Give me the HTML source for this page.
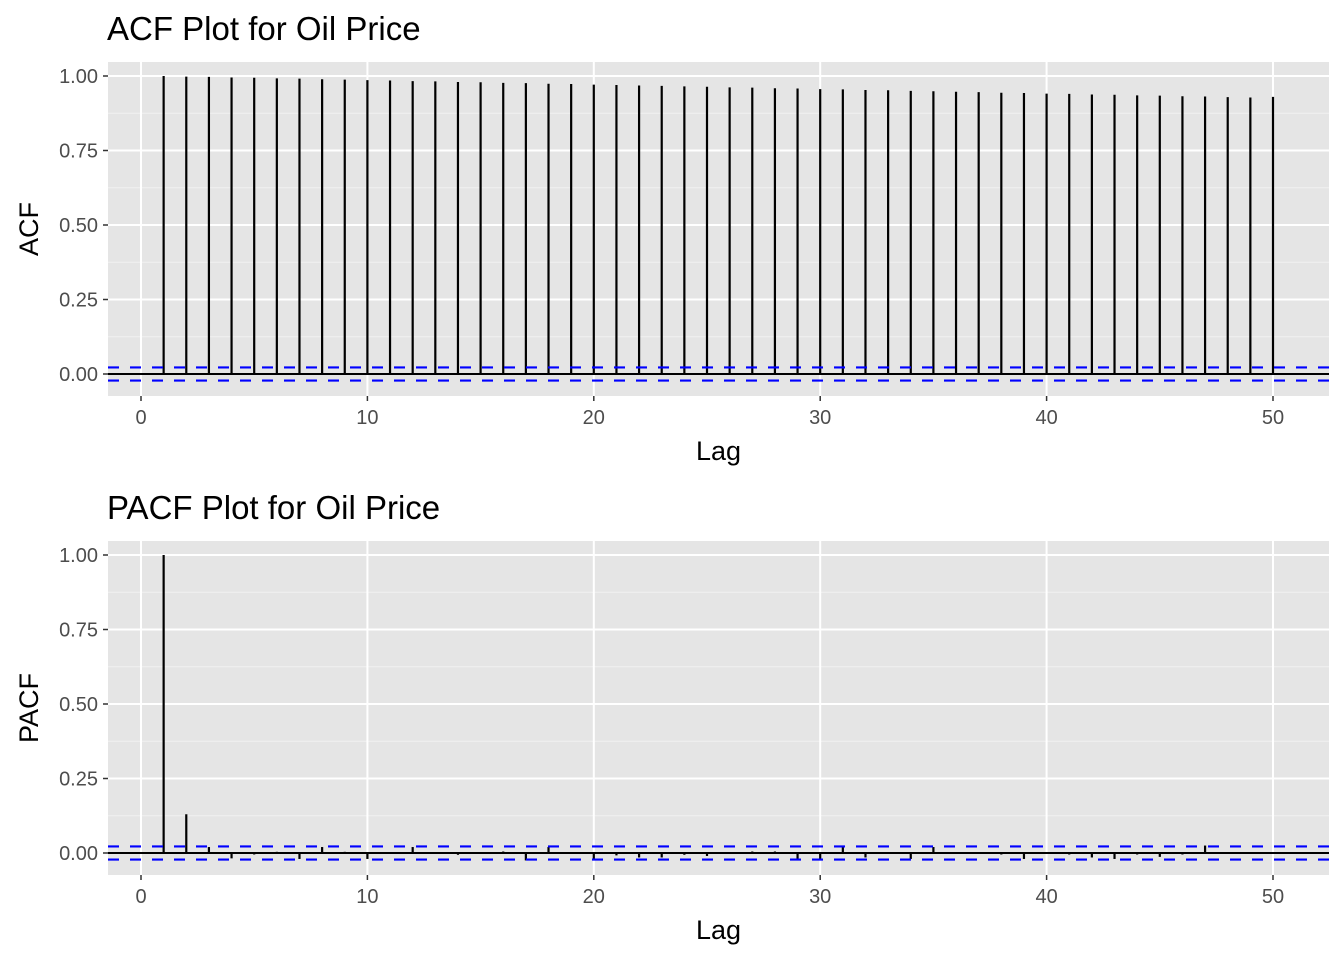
<!DOCTYPE html>
<html><head><meta charset="utf-8"><style>
body{margin:0;background:#fff;}
svg text{font-family:"Liberation Sans",Arial,sans-serif;}
</style></head><body>
<svg id="chart" width="1344" height="960" xmlns="http://www.w3.org/2000/svg"></svg>
<script>
const lags = Array.from({length:50},(_,i)=>i+1);
const acfValues = [1.00,0.998,0.997,0.995,0.994,0.992,0.991,0.989,0.988,0.986,0.985,0.983,0.982,0.980,0.979,0.977,0.976,0.974,0.973,0.971,0.970,0.968,0.967,0.965,0.964,0.962,0.961,0.959,0.958,0.956,0.955,0.953,0.952,0.950,0.949,0.947,0.946,0.944,0.943,0.941,0.940,0.938,0.937,0.935,0.934,0.932,0.931,0.929,0.928,0.930];
const pacfValues = [1.00,0.13,0.02,-0.018,-0.005,0.004,-0.02,0.02,0.004,-0.02,0,0.02,0.003,-0.006,0,0.005,-0.025,0.02,0,-0.025,-0.008,-0.015,-0.015,-0.006,-0.01,0.003,0.005,0.005,-0.02,-0.025,0.02,-0.015,0,-0.02,0.02,0,0.003,-0.005,-0.02,0,-0.005,-0.015,-0.02,-0.005,-0.013,-0.005,0.025,0,0,-0.003];
const confBand = 0.022;
const xTicks = [0,10,20,30,40,50];
const yTicks = [0,0.25,0.5,0.75,1.0];
const yTickLabels = ["0.00","0.25","0.50","0.75","1.00"];

const svg = document.getElementById('chart');
const NS = 'http://www.w3.org/2000/svg';
function mk(tag, attrs, parent){const e=document.createElementNS(NS,tag);for(const k in attrs)e.setAttribute(k,attrs[k]);(parent||svg).appendChild(e);return e;}

function panel(prefix, top, title, ylab, values){
  const L=108,R=1329,T=top,B=top+334;
  const x = v => 141 + v*22.64;
  const y0 = top+312, yScale = 298;
  const y = v => y0 - v*yScale;
  const g = mk('g',{});
  
  
  const bg = mk('rect',{x:L,y:T,width:R-L,height:B-T,fill:'#e5e5e5'},g);
  
  
  for(let i=0;i<yTicks.length-1;i++){const v=(yTicks[i]+yTicks[i+1])/2;mk('line',{x1:L,x2:R,y1:y(v),y2:y(v),stroke:'#f2f2f2','stroke-width':1},g);}
  yTicks.forEach((v,i)=>{
    mk('line',{x1:L,x2:R,y1:y(v),y2:y(v),stroke:'#fff','stroke-width':2},g);
    mk('line',{x1:L-5,x2:L,y1:y(v),y2:y(v),stroke:'#333','stroke-width':1.5},g);
    const t=mk('text',{x:L-10,y:y(v)+7,'text-anchor':'end','font-size':20,fill:'#4d4d4d'},g);
    t.textContent=yTickLabels[i];
    
    
  });
  xTicks.forEach(v=>{
    mk('line',{x1:x(v),x2:x(v),y1:T,y2:B,stroke:'#fff','stroke-width':2},g);
    mk('line',{x1:x(v),x2:x(v),y1:B,y2:B+5,stroke:'#333','stroke-width':1.5},g);
    const t=mk('text',{x:x(v),y:B+28,'text-anchor':'middle','font-size':20,fill:'#4d4d4d'},g);
    t.textContent=String(v);
    
    
  });
  values.forEach((v,i)=>{
    const l=mk('line',{x1:x(lags[i]),x2:x(lags[i]),y1:y(0),y2:y(v),stroke:'#000','stroke-width':2.2},g);
    
    
  });
  const zl=mk('line',{x1:L,x2:R,y1:y(0),y2:y(0),stroke:'#000','stroke-width':2},g);
  
  
  [confBand,-confBand].forEach(c=>{
    const d=mk('line',{x1:L,x2:R,y1:y(c),y2:y(c),stroke:'#0000ff','stroke-width':2.2,'stroke-dasharray':'11 11'},g);
    
    
  });
  const tt=mk('text',{x:107,y:top-22,'font-size':33,fill:'#000'},g);
  tt.textContent=title;
  
  
  const xl=mk('text',{x:(L+R)/2,y:B+64,'text-anchor':'middle','font-size':27,fill:'#000'},g);
  xl.textContent='Lag';
  
  
  const yl=mk('text',{x:0,y:0,'text-anchor':'middle','font-size':27,fill:'#000',transform:`translate(38,${(T+B)/2}) rotate(-90)`},g);
  yl.textContent=ylab;
  
  
}
panel('acf',62,'ACF Plot for Oil Price','ACF',acfValues);
panel('pacf',541,'PACF Plot for Oil Price','PACF',pacfValues);
</script>
</body></html>
